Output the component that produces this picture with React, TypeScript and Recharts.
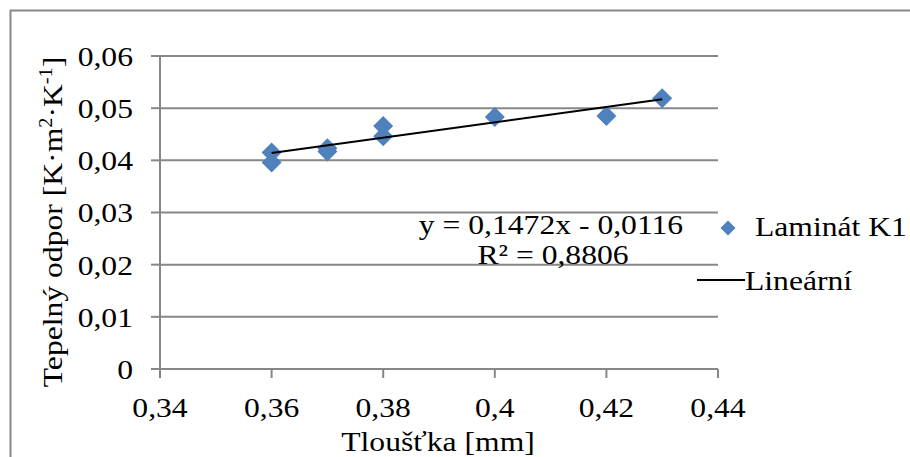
import React from 'react';
import { ScatterChart, Scatter, XAxis, YAxis, CartesianGrid } from 'recharts';

const thickness = [0.36, 0.36, 0.37, 0.37, 0.38, 0.38, 0.4, 0.42, 0.43];
const resistance = [0.0415, 0.0396, 0.0423, 0.0417, 0.0466, 0.0446, 0.0483, 0.0485, 0.0519];

// linear trend line endpoints
const trendX = [0.36, 0.43];
const trendY = [0.0414, 0.0517];

const xTicks = [0.34, 0.36, 0.38, 0.4, 0.42, 0.44];
const yTicks = [0, 0.01, 0.02, 0.03, 0.04, 0.05, 0.06];

const seriesName = 'Laminát K1';
const trendName = 'Lineární';
const equation = 'y = 0,1472x - 0,0116';
const rSquared = 'R² = 0,8806';

const points = thickness.map((x, i) => ({ x, y: resistance[i] }));
const trend = trendX.map((x, i) => ({ x, y: trendY[i] }));

const FONT = 'Liberation Serif';
const GRID = '#878787';
const BLUE = '#4F81BD';
const STRETCH = 1.13; // the original text is a bit wider than plain Times

const fmt = (v: number) => String(v).replace('.', ',');

const txt = { fontFamily: FONT, fontSize: 28, fill: '#000' };

// text stretched horizontally around its anchor point
const WideText = ({ x, y, anchor = 'start', rotate = 0, dy, children }: any) => (
  <text
    transform={`translate(${x},${y}) rotate(${rotate}) scale(${STRETCH},1)`}
    textAnchor={anchor}
    dy={dy}
    style={txt}
  >
    {children}
  </text>
);

const XTick = (props: any) => (
  <WideText x={props.x} y={props.y} anchor="middle" dy="0.71em">
    {fmt(props.payload.value)}
  </WideText>
);

const YTick = (props: any) => (
  <WideText x={props.x} y={props.y} anchor="end" dy="0.355em">
    {fmt(props.payload.value)}
  </WideText>
);

const Diamond = (props: any) => {
  const { cx, cy } = props;
  const r = 10;
  return (
    <polygon
      points={`${cx},${cy - r} ${cx + r},${cy} ${cx},${cy + r} ${cx - r},${cy}`}
      fill={BLUE}
    />
  );
};

const Nothing = () => <g />;

const App: React.FC = () => {
  return (
    <div style={{ position: 'absolute', left: 0, top: 0 }}>
      <ScatterChart width={910} height={457} margin={{ top: 56, right: 192, bottom: 0, left: 60 }}>
        <rect x={10.5} y={10.5} width={1000} height={1000} fill="none" stroke={GRID} strokeWidth={2} />
        <CartesianGrid vertical={false} stroke={GRID} strokeWidth={2} />
        <XAxis
          type="number"
          dataKey="x"
          domain={[0.34, 0.44]}
          ticks={xTicks}
          height={88}
          tickSize={9}
          tickMargin={19}
          stroke={GRID}
          strokeWidth={2}
          tick={<XTick />}
          allowDataOverflow
        />
        <YAxis
          type="number"
          dataKey="y"
          domain={[0, 0.06]}
          ticks={yTicks}
          width={100}
          tickSize={9}
          tickMargin={18}
          stroke={GRID}
          strokeWidth={2}
          tick={<YTick />}
          allowDataOverflow
        />
        <Scatter data={points} shape={Diamond} isAnimationActive={false} />
        <Scatter
          data={trend}
          line={{ stroke: '#000', strokeWidth: 2 }}
          shape={Nothing}
          isAnimationActive={false}
        />
        <WideText x={551} y={234} anchor="middle">{equation}</WideText>
        <WideText x={553} y={264} anchor="middle">{rSquared}</WideText>
        <polygon points="728,220.5 735.5,228 728,235.5 720.5,228" fill={BLUE} />
        <WideText x={755} y={236}>{seriesName}</WideText>
        <line x1={697} y1={280} x2={745} y2={280} stroke="#000" strokeWidth={2} />
        <WideText x={745} y={290}>{trendName}</WideText>
        <WideText x={62} y={222} anchor="middle" rotate={-90}>
          Tepelný odpor [K·m<tspan dy={-10} fontSize={18}>2</tspan>
          <tspan dy={10}>·K</tspan>
          <tspan dy={-10} fontSize={18}>-1</tspan>
          <tspan dy={10}>]</tspan>
        </WideText>
        <WideText x={438} y={451} anchor="middle">Tloušťka [mm]</WideText>
      </ScatterChart>
    </div>
  );
};

export default App;
